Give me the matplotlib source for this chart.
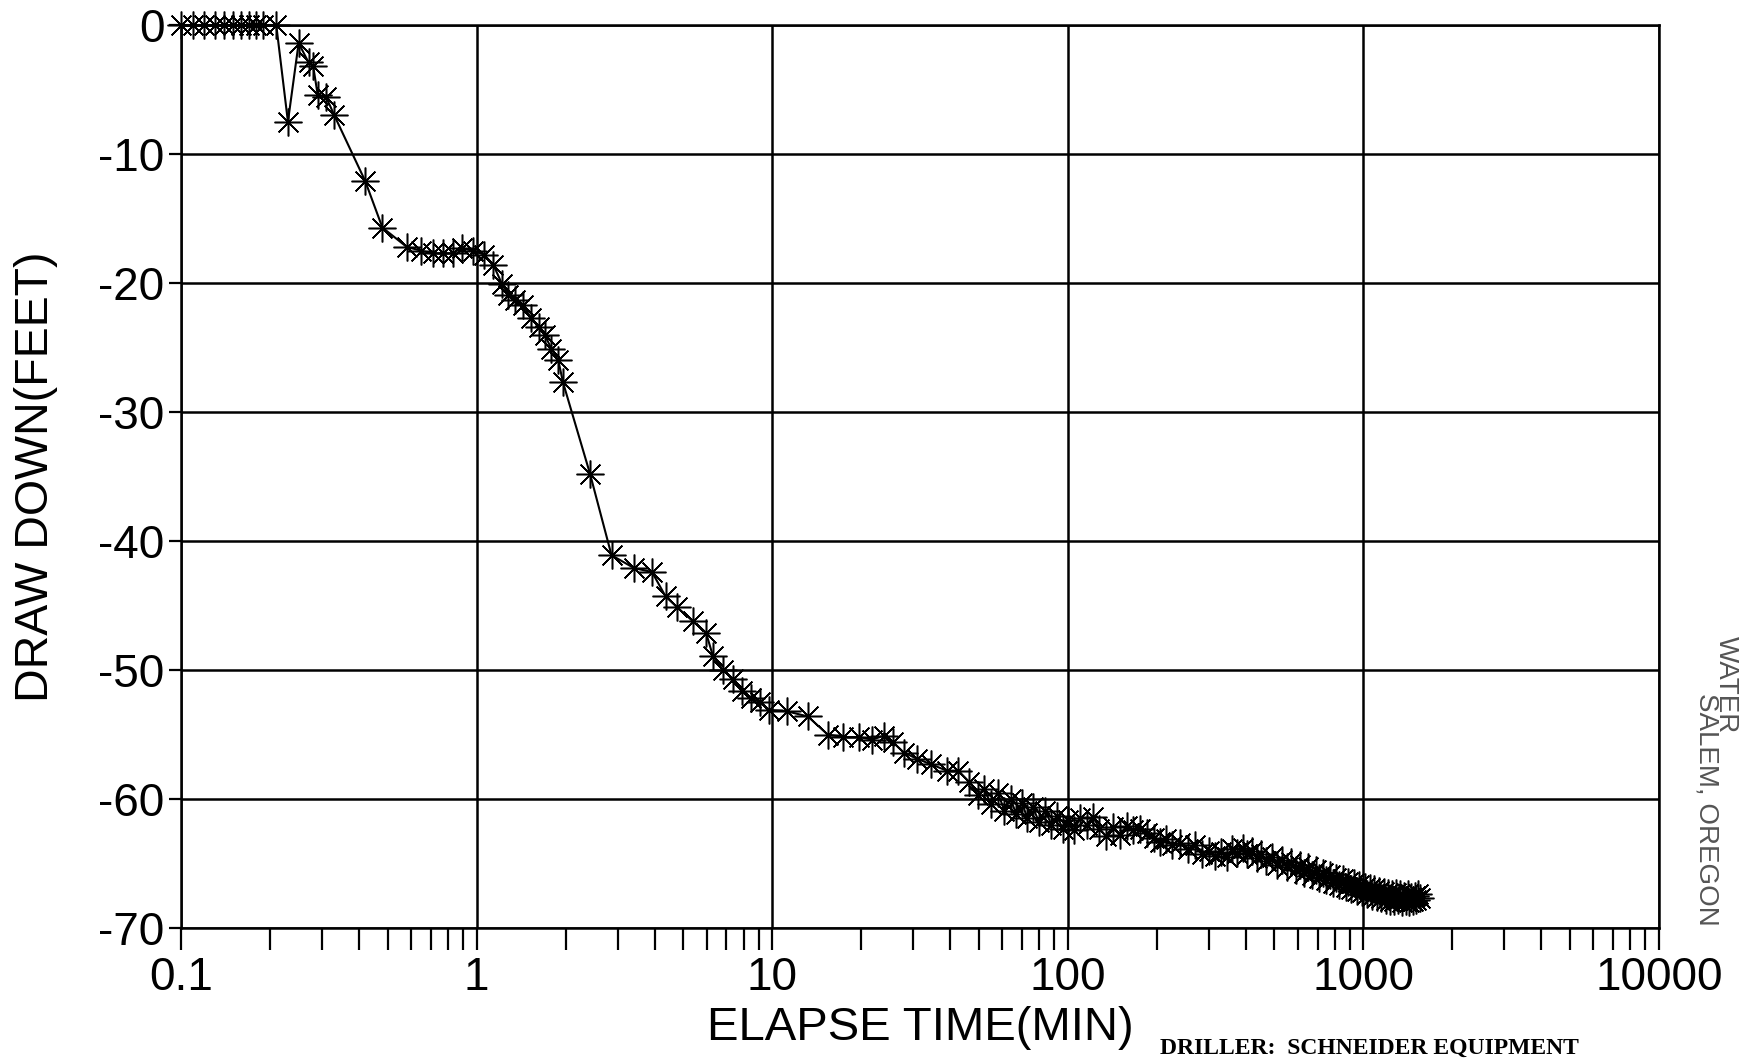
import matplotlib
matplotlib.use("Agg")
import matplotlib.pyplot as plt
from matplotlib.ticker import LogLocator, NullFormatter, FixedLocator

plt.rcParams['font.family'] = ['Liberation Sans', 'DejaVu Sans']
plt.rcParams['axes.unicode_minus'] = False

# elapsed time (min) and drawdown (ft)
time_min = [
    0.10, 0.11, 0.12, 0.13, 0.14, 0.15, 0.16, 0.17, 0.18, 0.19, 0.21,
    0.23, 0.25, 0.27, 0.28, 0.29, 0.31, 0.33, 0.42, 0.48, 0.58, 0.65,
    0.71, 0.77, 0.83, 0.89, 0.97, 1.06, 1.14, 1.22, 1.28, 1.35, 1.43,
    1.53, 1.62, 1.70, 1.79, 1.89, 1.96, 2.42, 2.86, 3.41, 3.92, 4.36,
    4.75, 5.38, 5.97, 6.3, 6.82, 7.37, 7.91, 8.48, 9.1, 9.76, 11.2,
    13.2, 15.4, 17.4, 19.7, 21.8, 23.8, 25.6, 27.9, 31.0, 34.4, 38.9,
    42.6, 46.5, 49.8,
    52, 55, 58, 61, 64, 67, 70, 73, 76, 80, 84, 88, 92, 96, 100, 105,
    110, 116, 122, 128, 135, 142, 150, 158, 166, 175, 185, 195, 205,
    215, 225, 240, 255, 270, 285, 300, 315, 330, 345, 360, 375, 390,
    405, 420, 435, 450, 470, 490, 510, 530, 550, 570, 590, 610, 630,
    650, 670, 690, 710, 730, 750, 770, 790, 810, 830, 850, 870, 890,
    910, 930, 950, 970, 990, 1010, 1030, 1050, 1070, 1090, 1110, 1130,
    1150, 1170, 1190, 1210, 1230, 1250, 1270, 1290, 1310, 1330, 1350,
    1370, 1390, 1410, 1430, 1450, 1470, 1490, 1510, 1530, 1550,
]
drawdown_ft = [
    0, 0, 0, 0, 0, 0, 0, 0, 0, 0, 0,
    -7.5, -1.4, -2.9, -3.2, -5.4, -5.6, -7.0, -12.1, -15.7, -17.2, -17.5,
    -17.7, -17.7, -17.7, -17.3, -17.5, -17.8, -18.6, -20.1, -20.9, -21.3, -21.7,
    -22.7, -23.4, -24.0, -25.1, -26.0, -27.7, -34.8, -41.1, -42.1, -42.4, -44.3,
    -45.1, -46.2, -47.1, -48.9, -50.0, -50.7, -51.6, -52.2, -52.5, -53.1, -53.2,
    -53.6, -55.0, -55.2, -55.2, -55.4, -55.1, -55.6, -56.4, -56.9, -57.3, -57.8,
    -57.8, -58.7, -59.7,
    -59.2, -60.4, -59.5, -60.9, -60.0, -61.2, -60.3, -61.5, -60.6, -61.8, -60.9,
    -62.0, -61.3, -62.3, -61.6, -62.4, -61.5, -62.0, -61.4, -62.3, -62.9, -62.2,
    -62.8, -62.1, -62.4, -62.3, -62.6, -63.0, -63.3, -63.1, -63.6, -63.4, -63.9,
    -63.6, -64.3, -64.0, -64.4, -64.1, -64.5, -63.9, -64.2, -63.8, -64.3, -64.0,
    -64.6, -64.3, -64.8, -64.5, -65.1, -64.7, -65.3, -64.9, -65.5, -65.1, -65.7,
    -65.3, -65.9, -65.5, -66.1, -65.7, -66.3, -65.9, -66.5, -66.1, -66.7, -66.2,
    -66.8, -66.4, -67.0, -66.5, -67.1, -66.7, -67.2, -66.8, -67.4, -66.9, -67.5,
    -67.0, -67.6, -67.1, -67.7, -67.2, -67.8, -67.3, -67.9, -67.4, -67.9, -67.3,
    -67.8, -67.4, -68.0, -67.5, -67.9, -67.4, -68.0, -67.6, -67.9, -67.5, -67.8,
    -67.4, -67.7,
]

x_ticks = [0.1, 1, 10, 100, 1000, 10000]
x_labels = ["0.1", "1", "10", "100", "1000", "10000"]
y_ticks = [0, -10, -20, -30, -40, -50, -60, -70]
y_labels = ["0", "-10", "-20", "-30", "-40", "-50", "-60", "-70"]

W, H = 1748, 1058
left, right, top, bottom = 181, 1659, 25, 928

fig = plt.figure(figsize=(W / 100, H / 100), dpi=100)
ax = fig.add_axes([left / W, 1 - bottom / H, (right - left) / W, (bottom - top) / H])

ax.plot(time_min, drawdown_ft, color='black', linewidth=1.5,
        marker=(8, 2, 0), markersize=20, markeredgewidth=1.1,
        markeredgecolor='black', clip_on=False, zorder=3)

ax.set_xscale('log')
ax.set_xlim(0.1, 10000)
ax.set_ylim(-70, 0)

ax.xaxis.set_major_locator(FixedLocator(x_ticks))
ax.set_xticklabels(x_labels)
ax.xaxis.set_minor_locator(LogLocator(base=10, subs=range(2, 10)))
ax.xaxis.set_minor_formatter(NullFormatter())
ax.set_yticks(y_ticks)
ax.set_yticklabels(y_labels)

ax.tick_params(axis='x', which='both', direction='out', length=16, width=1.6,
               labelsize=33, pad=4, colors='black')
ax.tick_params(axis='y', which='major', direction='out', length=9, width=1.6,
               labelsize=33, pad=3)

ax.grid(True, which='major', color='black', linewidth=1.8)
for s in ax.spines.values():
    s.set_linewidth(1.8)

ax.set_xlabel('ELAPSE TIME(MIN)', fontsize=34, va='center')
ax.xaxis.set_label_coords(0.5, -(1028 - bottom) / (bottom - top))
ax.set_ylabel('DRAW DOWN(FEET)', fontsize=33.5, va='center')
ax.yaxis.set_label_coords(-(left - 36) / (right - left), 0.5)

# scanned margin notes
fig.text(1726 / W, 1 - 636 / H, 'WATER', rotation=270, ha='center', va='top',
         fontsize=20, color='#555555')
fig.text(1706 / W, 1 - 693 / H, 'SALEM, OREGON', rotation=270, ha='center',
         va='top', fontsize=20, color='#555555')
fig.text(1160 / W, 1 - 1038 / H, 'DRILLER:  SCHNEIDER EQUIPMENT', ha='left',
         va='top', fontsize=17, family='Liberation Serif', fontweight='bold')

fig.savefig('out.png', dpi=100, facecolor='white')
